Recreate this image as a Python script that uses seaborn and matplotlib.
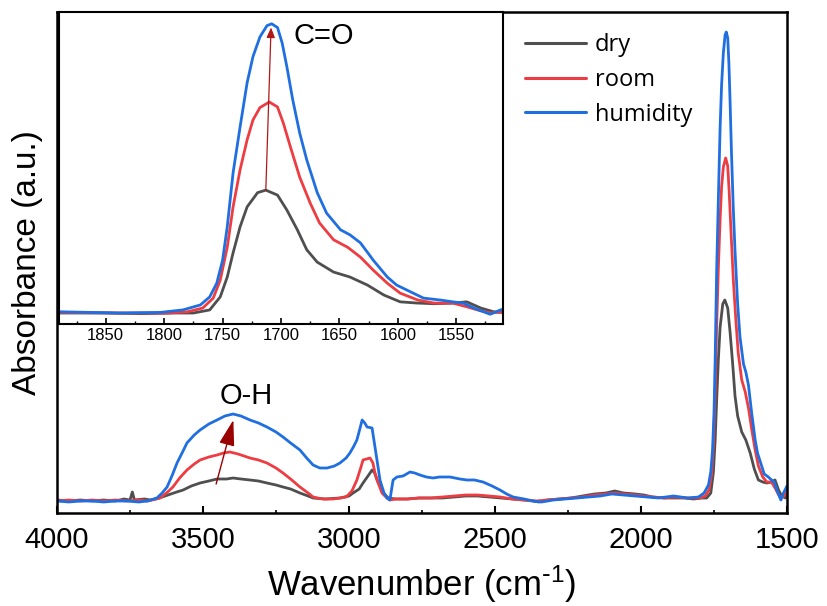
import numpy as np
import pandas as pd
import matplotlib
matplotlib.use("Agg")
import matplotlib.pyplot as plt
import seaborn as sns
from matplotlib.ticker import MultipleLocator

sns.set_style("white")
plt.rcParams['font.family'] = ['Liberation Sans', 'DejaVu Sans']
plt.rcParams['mathtext.default'] = 'regular'
plt.rcParams['text.color'] = 'black'
plt.rcParams['axes.labelcolor'] = 'black'
plt.rcParams['xtick.color'] = 'black'
plt.rcParams['ytick.color'] = 'black'

# ---------------- data ----------------
SAMPLES = ["dry", "room", "humidity"]

dry_wn = [4000, 3960, 3920, 3880, 3840, 3800, 3770, 3750, 3742, 3735, 3700, 3680, 3650, 3620,
          3590, 3568, 3540, 3510, 3480, 3452, 3420, 3397, 3370, 3339, 3310, 3281, 3250, 3226,
          3200, 3168, 3140, 3123, 3080, 3031, 3000, 2986, 2965, 2952, 2935, 2921, 2912, 2904,
          2883, 2865, 2840, 2800, 2760, 2720, 2680, 2640, 2600, 2560, 2520, 2480, 2440, 2400,
          2370, 2350, 2320, 2280, 2240, 2200, 2160, 2120, 2090, 2060, 2020, 1990, 1960, 1920,
          1889, 1850, 1820, 1790, 1775, 1761, 1752, 1746, 1741, 1735, 1729, 1720, 1713, 1703,
          1695, 1686, 1678, 1669, 1655, 1641, 1626, 1612, 1598, 1583, 1569, 1553, 1541, 1529,
          1518, 1505, 1500]
dry_ab = [0.13, 0.12, 0.13, 0.12, 0.13, 0.12, 0.14, 0.13, 0.21, 0.13, 0.14, 0.13, 0.15, 0.18,
          0.21, 0.23, 0.27, 0.30, 0.32, 0.34, 0.34, 0.35, 0.34, 0.33, 0.32, 0.30, 0.28, 0.26,
          0.24, 0.20, 0.17, 0.15, 0.14, 0.15, 0.17, 0.20, 0.24, 0.30, 0.37, 0.43, 0.40, 0.33,
          0.20, 0.15, 0.14, 0.14, 0.15, 0.15, 0.15, 0.16, 0.17, 0.17, 0.16, 0.15, 0.14, 0.13,
          0.12, 0.11, 0.13, 0.14, 0.15, 0.17, 0.19, 0.20, 0.22, 0.20, 0.19, 0.18, 0.16, 0.15,
          0.15, 0.15, 0.14, 0.15, 0.15, 0.20, 0.41, 0.73, 1.12, 1.54, 1.86, 2.09, 2.13, 2.05,
          1.81, 1.49, 1.17, 0.97, 0.81, 0.73, 0.60, 0.44, 0.33, 0.31, 0.30, 0.31, 0.33, 0.23,
          0.17, 0.15, 0.20]

room_wn = [4000, 3960, 3920, 3880, 3840, 3800, 3760, 3720, 3690, 3660, 3647, 3625, 3603, 3580,
           3555, 3530, 3510, 3480, 3452, 3430, 3408, 3380, 3339, 3310, 3281, 3250, 3226, 3200,
           3168, 3140, 3123, 3090, 3055, 3030, 3010, 2990, 2973, 2960, 2952, 2940, 2928, 2918,
           2911, 2900, 2887, 2870, 2860, 2840, 2800, 2760, 2720, 2680, 2640, 2600, 2560, 2520,
           2483, 2440, 2400, 2360, 2320, 2280, 2240, 2200, 2160, 2120, 2090, 2060, 2020, 1990,
           1960, 1920, 1889, 1840, 1797, 1780, 1767, 1758, 1752, 1746, 1741, 1735, 1729, 1724,
           1718, 1710, 1703, 1698, 1692, 1684, 1675, 1667, 1655, 1643, 1632, 1621, 1609, 1598,
           1583, 1569, 1553, 1541, 1530, 1521, 1510, 1500]
room_ab = [0.12, 0.13, 0.12, 0.13, 0.12, 0.13, 0.12, 0.13, 0.12, 0.14, 0.15, 0.20, 0.26, 0.35,
           0.43, 0.49, 0.53, 0.56, 0.58, 0.60, 0.61, 0.59, 0.55, 0.53, 0.50, 0.45, 0.40, 0.34,
           0.26, 0.20, 0.16, 0.14, 0.14, 0.15, 0.16, 0.22, 0.33, 0.45, 0.53, 0.54, 0.55, 0.50,
           0.40, 0.30, 0.20, 0.15, 0.13, 0.14, 0.14, 0.15, 0.15, 0.16, 0.17, 0.18, 0.18, 0.17,
           0.16, 0.14, 0.13, 0.12, 0.13, 0.14, 0.15, 0.16, 0.18, 0.19, 0.20, 0.19, 0.18, 0.17,
           0.16, 0.15, 0.16, 0.15, 0.15, 0.17, 0.23, 0.39, 0.68, 1.21, 1.86, 2.46, 2.94, 3.26,
           3.46, 3.55, 3.47, 3.21, 2.83, 2.34, 1.92, 1.60, 1.33, 1.21, 1.05, 0.84, 0.63, 0.47,
           0.36, 0.31, 0.31, 0.25, 0.19, 0.15, 0.17, 0.22]

hum_wn = [4000, 3960, 3920, 3880, 3840, 3800, 3760, 3720, 3690, 3658, 3640, 3623, 3605, 3589,
          3570, 3555, 3530, 3510, 3480, 3452, 3425, 3397, 3370, 3339, 3310, 3281, 3250, 3226,
          3200, 3168, 3145, 3123, 3100, 3075, 3050, 3031, 3010, 2997, 2985, 2973, 2962, 2955,
          2946, 2938, 2921, 2911, 2900, 2894, 2880, 2870, 2860, 2849, 2836, 2815, 2791, 2775,
          2757, 2735, 2712, 2690, 2654, 2620, 2596, 2570, 2541, 2510, 2483, 2460, 2438, 2400,
          2370, 2340, 2300, 2260, 2220, 2180, 2140, 2100, 2060, 2020, 1980, 1940, 1889, 1840,
          1803, 1784, 1769, 1761, 1755, 1750, 1746, 1741, 1735, 1729, 1724, 1718, 1712, 1708,
          1703, 1699, 1695, 1690, 1684, 1678, 1669, 1661, 1649, 1641, 1632, 1621, 1609, 1601,
          1589, 1578, 1564, 1553, 1544, 1535, 1521, 1512, 1500]
hum_ab = [0.12, 0.11, 0.12, 0.12, 0.11, 0.12, 0.12, 0.11, 0.12, 0.15, 0.20, 0.26, 0.38, 0.50,
          0.61, 0.70, 0.78, 0.83, 0.89, 0.93, 0.97, 0.99, 0.97, 0.93, 0.90, 0.86, 0.81, 0.76,
          0.70, 0.63, 0.55, 0.48, 0.45, 0.45, 0.47, 0.50, 0.55, 0.60, 0.66, 0.73, 0.85, 0.93,
          0.90, 0.86, 0.85, 0.66, 0.45, 0.33, 0.20, 0.15, 0.13, 0.33, 0.36, 0.37, 0.41, 0.40,
          0.38, 0.36, 0.35, 0.36, 0.36, 0.34, 0.33, 0.33, 0.31, 0.27, 0.23, 0.19, 0.16, 0.14,
          0.12, 0.11, 0.13, 0.14, 0.15, 0.16, 0.17, 0.19, 0.18, 0.17, 0.16, 0.15, 0.17, 0.15,
          0.16, 0.20, 0.28, 0.41, 0.63, 1.00, 1.54, 2.41, 3.15, 3.86, 4.28, 4.60, 4.78, 4.81,
          4.75, 4.50, 4.12, 3.59, 3.05, 2.62, 2.09, 1.76, 1.49, 1.41, 1.28, 1.00, 0.73, 0.60,
          0.49, 0.39, 0.36, 0.33, 0.31, 0.23, 0.13, 0.20, 0.27]

MAIN_TICKS = [4000, 3500, 3000, 2500, 2000, 1500]
INSET_TICKS = [1850, 1800, 1750, 1700, 1650, 1600, 1550]

frames = []
for name, wn, ab in [("dry", dry_wn, dry_ab), ("room", room_wn, room_ab), ("humidity", hum_wn, hum_ab)]:
    frames.append(pd.DataFrame({"Wavenumber": wn, "Absorbance": ab, "Sample": name}))
df = pd.concat(frames, ignore_index=True)

palette = {"dry": "#4f4f4f", "room": "#ee3d42", "humidity": "#1f6fe0"}

W, H = 827, 606
fig = plt.figure(figsize=(W / 100, H / 100), dpi=100)

# ---------------- main axes ----------------
ax = fig.add_axes([57 / W, 1 - 513 / H, 730 / W, 501 / H])
sns.lineplot(data=df, x="Wavenumber", y="Absorbance", hue="Sample", hue_order=SAMPLES,
             palette=palette, estimator=None, sort=True, lw=2.0, ax=ax)
ax.set_xlim(4000, 1500)
ax.set_ylim(0, 5.01)
ax.set_xticks(MAIN_TICKS)
ax.set_xticklabels([str(t) for t in MAIN_TICKS])
ax.xaxis.set_minor_locator(MultipleLocator(250))
ax.set_yticks([])
ax.tick_params(axis="x", which="major", direction="in", length=5, width=1.5,
               labelsize=21, pad=9, bottom=True)
ax.tick_params(axis="x", which="minor", direction="in", length=2.5, width=1.2, bottom=True)
for s in ax.spines.values():
    s.set_linewidth(1.8)
    s.set_color("black")
ax.set_xlabel(r"Wavenumber (cm$^{\text{-}1}$)", fontsize=25, labelpad=7)
ax.set_ylabel("Absorbance (a.u.)", fontsize=24, labelpad=10)

ax.text(3351, 1.17, "O-H", fontsize=21, ha="center", va="center")
ax.annotate("", xy=(3396, 0.93), xytext=(3455, 0.29),
            arrowprops=dict(arrowstyle="-|>,head_length=1.6,head_width=0.48",
                            mutation_scale=10, color="#9b0000", lw=1.0,
                            shrinkA=0, shrinkB=0))

handles, labels = ax.get_legend_handles_labels()
ax.get_legend().remove()
for h in handles:
    h.set_linewidth(2.2)
fig.legend(handles, labels, loc="upper left", bbox_to_anchor=(525 / W, 1 - 33 / H),
           frameon=False, prop={"family": "Open Sans", "size": 17},
           handlelength=2.6, handletextpad=0.35, labelspacing=0.46,
           borderpad=0, borderaxespad=0, labelcolor="black")

# ---------------- inset axes ----------------
axin = fig.add_axes([59 / W, 1 - 324 / H, 444 / W, 312 / H])
axin.set_facecolor("white")
sns.lineplot(data=df, x="Wavenumber", y="Absorbance", hue="Sample", hue_order=SAMPLES,
             palette=palette, estimator=None, sort=True, lw=2.0, ax=axin, legend=False)
axin.set_xlim(1890, 1510)
axin.set_ylim(-0.027, 5.0)
axin.set_xticks(INSET_TICKS)
axin.set_xticklabels([str(t) for t in INSET_TICKS])
axin.xaxis.set_minor_locator(MultipleLocator(25))
axin.set_yticks([])
axin.set_xlabel("")
axin.set_ylabel("")
axin.tick_params(axis="x", which="major", direction="in", length=4, width=1.2,
                 labelsize=12, pad=3, bottom=True)
axin.tick_params(axis="x", which="minor", direction="in", length=2, width=1.0, bottom=True)
for s in axin.spines.values():
    s.set_linewidth(1.5)
    s.set_color("black")

axin.text(1689.6, 4.62, "C=O", fontsize=21, ha="left", va="center")
axin.annotate("", xy=(1708.5, 4.75), xytext=(1713, 2.13),
              arrowprops=dict(arrowstyle="-|>,head_length=0.6,head_width=0.25",
                              mutation_scale=10, color="#b01818", lw=0.9,
                              shrinkA=0, shrinkB=0))

fig.savefig("out.png", dpi=100)
